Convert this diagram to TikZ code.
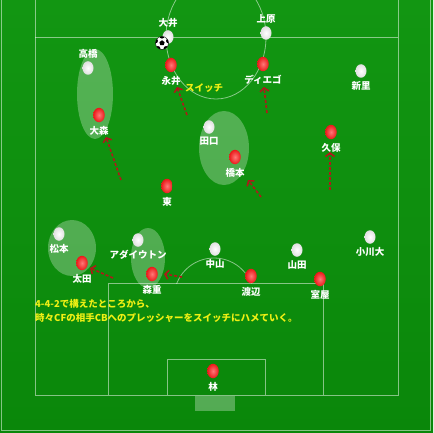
\documentclass[tikz,border=0pt]{standalone}
\usepackage{fontspec}
\setmainfont{Noto Sans CJK JP}
\usetikzlibrary{arrows.meta,shapes.geometric}
\definecolor{pitchtop}{RGB}{18,150,18}
\definecolor{pitchbot}{RGB}{10,135,10}
\definecolor{runred}{RGB}{175,25,25}
\definecolor{memo}{RGB}{240,240,20}
\definecolor{redhi}{RGB}{255,120,120}
\definecolor{redlo}{RGB}{235,25,25}

\begin{document}
\begin{tikzpicture}[x=1pt,y=-1pt,
    every node/.style={font=\fontsize{9.5}{11}\bfseries\selectfont,text=white},
    home/.style={ellipse,minimum width=11.5pt,minimum height=14.5pt,inner sep=0,inner color=redhi,outer color=redlo},
    away/.style={ellipse,minimum width=11pt,minimum height=13.5pt,inner sep=0,inner color=white,outer color=white!88!black},
    zone/.style={fill=white,opacity=0.28},
    line/.style={draw=white,opacity=0.5,line width=0.8pt},
    run/.style={runred,line width=1.6pt,dash pattern=on 3pt off 2pt,-{Straight Barb[length=3.5pt,width=9pt]}}]
        \useasboundingbox (0,0) rectangle (433,433);
        \clip (0,0) rectangle (433,433);
        \shade[top color=pitchtop,bottom color=pitchbot] (0,0) rectangle (433,433);
        % pitch lines
        \draw[line] (1,-2) rectangle (430,430);
        \draw[line] (35,-2) -- (35,395) -- (398,395) -- (398,-2);
        \draw[line] (35,37) -- (398,37);
        \draw[line] (216,37) ellipse [x radius=50pt,y radius=62pt];
        \draw[line] (108,395) -- (108,283) -- (323,283) -- (323,395);
        \draw[line] (167,395) -- (167,359) -- (265,359) -- (265,395);
        \begin{scope}
          \clip (0,0) rectangle (433,283);
          \draw[line] (214,298) circle (40pt);
        \end{scope}
        \fill[white,opacity=0.3] (195,396) rectangle (235,411);
        % pressing zones
        \fill[zone] (95,94) ellipse [x radius=18pt,y radius=45pt];
        \fill[zone] (224,148) ellipse [x radius=25pt,y radius=37pt];
        \fill[zone] (72,248) ellipse [x radius=24pt,y radius=28pt];
        \fill[zone] (148,258) ellipse [x radius=17pt,y radius=30pt];
        % opponents
        \node[away,label={[yshift=-1pt]above:大井}] (ooi) at (168,37) {};
        \node[away,label={[yshift=-1pt]above:上原}] (uehara) at (266,33) {};
        \node[away,label={[yshift=-1pt]above:高橋}] (takahashi) at (88,68) {};
        \node[away,label=below:新里] (niisato) at (361,71) {};
        \node[away,label=below:田口] (taguchi) at (209,127) {};
        \node[away,label=below:松本] (matsumoto) at (59,234) {};
        \node[away,label=below:アダイウトン] (adailton) at (138,240) {};
        \node[away,label=below:中山] (nakayama) at (215,249) {};
        \node[away,label=below:山田] (yamada) at (297,250) {};
        \node[away,label=below:小川大] (ogawa) at (370,237) {};
        % ball
        \node[circle,draw=black,line width=0.4pt,fill=white,minimum size=13pt,inner sep=0] (ball) at (162,43) {};
        \begin{scope}
          \clip (162,43) circle (6.5pt);
          \node[regular polygon,regular polygon sides=5,fill=black,minimum size=5.5pt,inner sep=0] at (ball) {};
          \foreach \a in {18,90,162,234,306}
            \fill[black] (ball.center) ++(\a:7pt) circle (2.6pt);
        \end{scope}
        % FC Tokyo
        \node[home,label=below:永井] (nagai) at (171,65) {};
        \node[home,label=below:ディエゴ] (diego) at (263,64) {};
        \node[home,label=below:大森] (omori) at (99,115) {};
        \node[home,label=below:橋本] (hashimoto) at (235,157) {};
        \node[home,label=below:久保] (kubo) at (331,132) {};
        \node[home,label=below:東] (higashi) at (167,186) {};
        \node[home,label=below:太田] (ota) at (82,263) {};
        \node[home,label=below:森重] (morishige) at (152,274) {};
        \node[home,label=below:渡辺] (watanabe) at (251,276) {};
        \node[home,label=below:室屋] (muroya) at (320,279) {};
        \node[home,label=below:林] (hayashi) at (213,371) {};
        % runs
        \coordinate (omoriA) at (121,180);   \coordinate (omoriB) at (106,137);
        \coordinate (nagaiA) at (187,115);   \coordinate (nagaiB) at (177,87);
        \coordinate (diegoA) at (267,113);   \coordinate (diegoB) at (264,87);
        \coordinate (hashiA) at (261,197);   \coordinate (hashiB) at (248,180);
        \coordinate (kuboA) at (330,190);    \coordinate (kuboB) at (330,152);
        \coordinate (otaA) at (113,278);     \coordinate (otaB) at (90,268);
        \coordinate (moriA) at (182,277);    \coordinate (moriB) at (164,274);
        \draw[run] (omoriA) -- (omoriB);
        \draw[run] (nagaiA) -- (nagaiB);
        \draw[run] (diegoA) -- (diegoB);
        \draw[run] (hashiA) -- (hashiB);
        \draw[run] (kuboA) -- (kuboB);
        \draw[run] (otaA) -- (otaB);
        \draw[run] (moriA) -- (moriB);
        % notes
        \node[text=memo] (switch) at (204,88) {スイッチ};
        \node[text=memo,anchor=west,inner sep=0] (memo1) at (35,304) {4-4-2で構えたところから、};
        \node[text=memo,anchor=west,inner sep=0] (memo2) at (35,318) {時々CFの相手CBへのプレッシャーをスイッチにハメていく。};
      \end{tikzpicture}
\end{document}
